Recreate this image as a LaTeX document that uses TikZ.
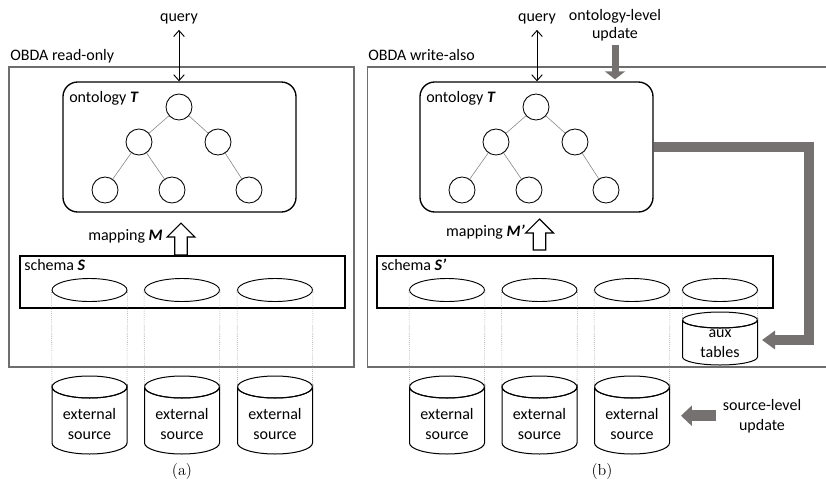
\documentclass[tikz,border=0pt]{standalone}
\usepackage{fontspec}
\newfontfamily\cbfont{Carlito}
\usetikzlibrary{shapes.geometric,arrows.meta}
\definecolor{updgray}{RGB}{118,113,113}
\definecolor{framegray}{RGB}{110,110,110}
\definecolor{treegray}{RGB}{135,135,135}
\newcommand\dbcyl[5]{%
  \coordinate (#1) at (#2,#3);
  \coordinate (#1-w) at (#2-37.5,#3);
  \coordinate (#1-e) at (#2+37.5,#3);
  \draw[cylline] (#2-37.5,#3) -- (#2-37.5,#4) arc[start angle=180,end angle=0,x radius=37.5,y radius=#5] -- (#2+37.5,#3) arc[start angle=0,end angle=180,x radius=37.5,y radius=#5] -- cycle;
  \draw[cylline,fill=none] (#1) ellipse [x radius=37.5, y radius=#5];
}
\begin{document}
\begin{tikzpicture}[x=0.75pt,y=-0.75pt,line join=miter,
  txt/.style={font=\cbfont\fontsize{12}{15}\selectfont, inner sep=0pt},
  outerbox/.style={draw=framegray, line width=0.8pt, minimum height=225pt, inner sep=0pt},
  ontobox/.style={draw, line width=1pt, rounded corners=11pt, minimum width=174.75pt, minimum height=97.5pt, inner sep=0pt},
  concept/.style={circle, draw, line width=0.65pt, minimum size=19.5pt, inner sep=0pt},
  isa/.style={draw=treegray, line width=0.45pt},
  schemabox/.style={draw, line width=1.1pt, minimum height=39pt, inner sep=0pt},
  tabletop/.style={ellipse, draw, line width=0.7pt, minimum width=56.25pt, minimum height=17.25pt, inner sep=0pt},
  link/.style={draw=treegray, line width=0.45pt, densely dotted},
  cylline/.style={draw, line width=0.75pt, fill=white},
  qarrow/.style={draw, line width=0.7pt, {Straight Barb[length=4.5pt,width=8pt]}-{Straight Barb[length=4.5pt,width=8pt]}},
  blockarrow/.style={draw, line width=0.8pt, fill=white},
  updline/.style={draw=updgray, line width=7.5pt, -{Triangle[length=9.75pt,width=13.5pt]}},
  caption/.style={font=\fontsize{12}{14}\selectfont, inner sep=0pt}
]
\useasboundingbox (0,0) rectangle (826,483);

% outer frames
\node[outerbox, minimum width=258.75pt] (ra) at (181.5,217) {};
\node[outerbox, minimum width=346.7pt] (wa) at (598.9,217) {};
\node[txt, anchor=base west] (ra-l) at (10,60) {OBDA read-only};
\node[txt, anchor=base west] (wa-l) at (368,60) {OBDA write-also};

% ontologies
\node[ontobox] (o1) at (179.5,147) {};
\node[txt, anchor=base west] (o1-l) at (69,102) {ontology \textbf{\textit{T}}};
\node[ontobox] (o2) at (536.5,147) {};
\node[txt, anchor=base west] (o2-l) at (426,102) {ontology \textbf{\textit{T}}};

\node[concept] (a0) at (179,107) {};
\node[concept] (a1) at (139,142) {};
\node[concept] (a2) at (218,142) {};
\node[concept] (a3) at (105,190) {};
\node[concept] (a4) at (172,190) {};
\node[concept] (a5) at (249,190) {};
\draw[isa] (a0) -- (a1); \draw[isa] (a0) -- (a2);
\draw[isa] (a1) -- (a3); \draw[isa] (a1) -- (a4); \draw[isa] (a2) -- (a5);

\node[concept] (b0) at (536,107) {};
\node[concept] (b1) at (496,142) {};
\node[concept] (b2) at (575,142) {};
\node[concept] (b3) at (462,190) {};
\node[concept] (b4) at (529,190) {};
\node[concept] (b5) at (606,190) {};
\draw[isa] (b0) -- (b1); \draw[isa] (b0) -- (b2);
\draw[isa] (b1) -- (b3); \draw[isa] (b1) -- (b4); \draw[isa] (b2) -- (b5);

% queries
\node[txt, anchor=base] (q1) at (179,21) {query};
\draw[qarrow, shorten <=4.5pt] (q1.south) -- (q1.south |- o1.north);
\node[txt, anchor=base] (q2) at (537,21) {query};
\draw[qarrow, shorten <=4.5pt] (q2.south) -- (q2.south |- o2.north);

% ontology-level update
\node[txt, anchor=base, align=center, font=\cbfont\fontsize{12}{13.2}\selectfont] (ou) at (615,38) {ontology-level\\update};
\draw[draw=updgray, line width=5.25pt, -{Triangle[length=6pt,width=15pt]}, shorten <=3.4pt, shorten >=1.5pt] (ou.south) -- (ou.south |- o2.north);

% mappings
\node[txt, anchor=base east] (m1) at (163,240) {mapping \textbf{\textit{M}}};
\draw[blockarrow] (181,223) -- (195,237) -- (187.25,237) -- (187.25,255) -- (174.75,255) -- (174.75,237) -- (167,237) -- cycle;
\node[txt, anchor=base east] (m2) at (525,236) {mapping \textbf{\textit{M’}}};
\draw[blockarrow] (539.5,219) -- (553.5,233) -- (545.75,233) -- (545.75,250) -- (533.25,250) -- (533.25,233) -- (525.5,233) -- cycle;

% schemas
\node[schemabox, minimum width=243.75pt] (s1) at (182.5,282) {};
\node[txt, anchor=base west] (s1-l) at (24,270) {schema \textbf{\textit{S}}};
\node[schemabox, minimum width=297pt] (s2) at (575,282) {};
\node[txt, anchor=base west] (s2-l) at (381,270) {schema \textbf{\textit{S’}}};

\node[tabletop] (t1) at (89.5,290) {};
\node[tabletop] (t2) at (182,290) {};
\node[tabletop] (t3) at (275,290) {};
\node[tabletop] (u1) at (447,290) {};
\node[tabletop] (u2) at (539.5,290) {};
\node[tabletop] (u3) at (632,290) {};
\node[tabletop] (u4) at (720,290) {};

% cylinders
\dbcyl{c1}{89.5}{387}{443}{11}
\dbcyl{c2}{182}{387}{443}{11}
\dbcyl{c3}{275}{387}{443}{11}
\dbcyl{d1}{447}{387}{443}{11}
\dbcyl{d2}{539.5}{387}{443}{11}
\dbcyl{d3}{632}{387}{443}{11}
\dbcyl{ax}{720}{320}{357}{8}

\draw[link] (t1.west) -- (c1-w); \draw[link] (t1.east) -- (c1-e);
\draw[link] (t2.west) -- (c2-w); \draw[link] (t2.east) -- (c2-e);
\draw[link] (t3.west) -- (c3-w); \draw[link] (t3.east) -- (c3-e);
\draw[link] (u1.west) -- (d1-w); \draw[link] (u1.east) -- (d1-e);
\draw[link] (u2.west) -- (d2-w); \draw[link] (u2.east) -- (d2-e);
\draw[link] (u3.west) -- (d3-w); \draw[link] (u3.east) -- (d3-e);
\draw[link] (u4.west) -- (ax-w); \draw[link] (u4.east) -- (ax-e);

\node[txt, anchor=base, align=center] (c1-t) at (89.5,439) {external\\source};
\node[txt, anchor=base, align=center] (c2-t) at (182,439) {external\\source};
\node[txt, anchor=base, align=center] (c3-t) at (275,439) {external\\source};
\node[txt, anchor=base, align=center] (d1-t) at (447,439) {external\\source};
\node[txt, anchor=base, align=center] (d2-t) at (539.5,439) {external\\source};
\node[txt, anchor=base, align=center] (d3-t) at (632,439) {external\\source};
\node[txt, anchor=base, align=center, font=\cbfont\fontsize{12}{14.5}\selectfont] (ax-t) at (720,357) {aux\\tables};

% ontology -> aux tables
\coordinate (bend) at (809,340);
\coordinate (auxtip) at (762,340);
\draw[updline] (o2.east) -| (bend) -- (auxtip);

% source-level update
\node[txt, anchor=base, align=center] (su) at (762,430) {source-level\\update};
\draw[draw=updgray, line width=8.25pt, -{Triangle[length=8.25pt,width=15pt]}, shorten <=5.25pt, shorten >=8.6pt] (su.west) -- (su.west -| d3-e);

% captions
\node[caption] (capa) at (182,472) {(a)};
\node[caption] (capb) at (602,472) {(b)};
\end{tikzpicture}
\end{document}
